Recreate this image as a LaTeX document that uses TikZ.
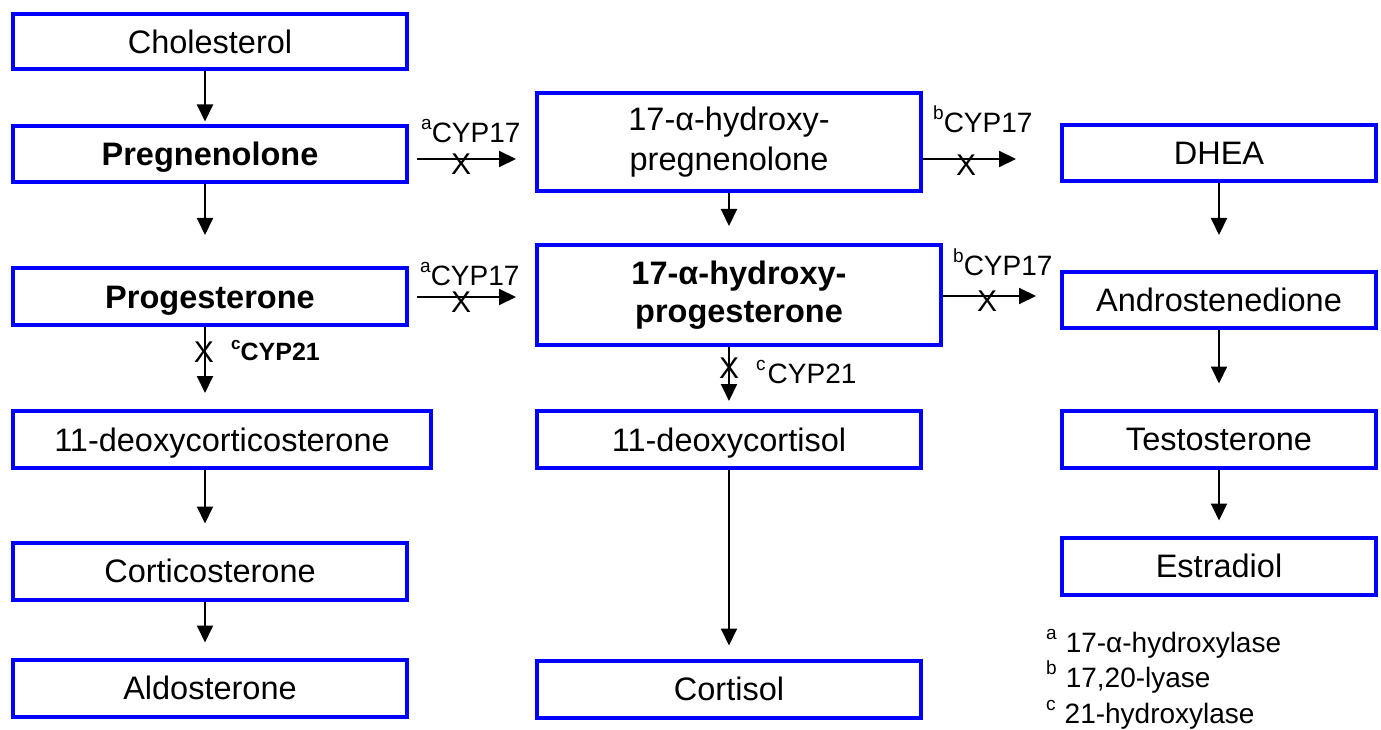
\documentclass[tikz,border=0pt]{standalone}
\usepackage{fontspec}
\setmainfont{Liberation Sans}
\usetikzlibrary{arrows.meta}
\newcommand\supx[1]{\raisebox{13pt}{\fontsize{19}{19}\selectfont #1}}
\begin{document}
\begin{tikzpicture}[x=1pt,y=-1pt,
 box/.style={draw=blue, line width=4pt, inner sep=0pt, align=center, text=black, font=\fontsize{32.5}{40}\selectfont},
 bbox/.style={box, font=\fontsize{32.5}{38}\selectfont\bfseries},
 one/.style={text height=23.5pt, text depth=0pt},
 arr/.style={line width=2pt, -{Triangle[length=17pt,width=16pt]}},
 lab/.style={anchor=base west, inner sep=0pt, font=\fontsize{28}{34}\selectfont},
 xm/.style={inner sep=0pt, font=\fontsize{30}{30}\selectfont}]
\useasboundingbox[fill=white] (0,0) rectangle (1381,730);

% left column
\node[box, one, minimum width=394, minimum height=55] (chol) at (210,41.5) {Cholesterol};
\node[bbox, one, minimum width=394, minimum height=56] (preg) at (210,154) {Pregnenolone};
\node[bbox, one, minimum width=394, minimum height=57] (prog) at (210,296.5) {Progesterone};
\node[box, one, minimum width=418, minimum height=57] (doc) at (222,439.5) {11-deoxycorticosterone};
\node[box, one, minimum width=394, minimum height=57] (cortico) at (210,571) {Corticosterone};
\node[box, one, minimum width=394, minimum height=57] (aldo) at (210,688) {Aldosterone};
% middle column
\node[box, minimum width=384, minimum height=98] (ohpreg) at (729,142.5) {17-α-hydroxy-\\pregnenolone};
\node[bbox, minimum width=404, minimum height=100] (ohp) at (739,295) {17-α-hydroxy-\\progesterone};
\node[box, one, minimum width=384, minimum height=57] (dc) at (729,439.5) {11-deoxycortisol};
\node[box, one, minimum width=384, minimum height=57] (cortisol) at (729,689) {Cortisol};
% right column
\node[box, one, minimum width=314, minimum height=56] (dhea) at (1219,153) {DHEA};
\node[box, one, minimum width=314, minimum height=56] (andro) at (1219,300) {Androstenedione};
\node[box, one, minimum width=314, minimum height=57] (testo) at (1219,439) {Testosterone};
\node[box, one, minimum width=314, minimum height=57] (estr) at (1219,566) {Estradiol};

% vertical arrows, left
\draw[arr, shorten >=2.5pt] ([xshift=-5pt]chol.south) -- ([xshift=-5pt]chol.south |- preg.north);
\draw[arr, shorten >=31pt] ([xshift=-5pt]preg.south) -- ([xshift=-5pt]preg.south |- prog.north);
\draw[arr, shorten >=16pt] ([xshift=-5pt]prog.south) -- ([xshift=-5pt]prog.south |- doc.north);
\draw[arr, shorten >=17pt] ([xshift=-5pt]cortico.north |- doc.south) -- ([xshift=-5pt]cortico.north);
\draw[arr, shorten >=15pt] ([xshift=-5pt]cortico.south) -- ([xshift=-5pt]aldo.north);
% vertical arrows, middle
\draw[arr, shorten >=17pt] (ohpreg.south) -- (ohpreg.south |- ohp.north);
\draw[arr, shorten >=8pt] (dc.north |- ohp.south) -- (dc.north);
\draw[arr, shorten >=13pt] (dc.south) -- (cortisol.north);
% vertical arrows, right
\draw[arr, shorten >=35pt] (dhea.south) -- (andro.north);
\draw[arr, shorten >=25pt] (andro.south) -- (testo.north);
\draw[arr, shorten >=15pt] (testo.south) -- (estr.north);

% horizontal arrows
\draw[arr, shorten <=8pt, shorten >=19pt] ([yshift=-5pt]preg.east) -- ([yshift=-5pt]preg.east -| ohpreg.west);
\draw[arr, shorten <=8pt, shorten >=19pt] ([yshift=-0.5pt]prog.east) -- ([yshift=-0.5pt]prog.east -| ohp.west);
\draw[arr, shorten >=44pt] ([yshift=-16.5pt]ohpreg.east) -- ([yshift=-16.5pt]ohpreg.east -| dhea.west);
\draw[arr, shorten >=24pt] ([yshift=-1pt]ohp.east) -- ([yshift=-1pt]ohp.east -| andro.west);

% block marks
\node[xm] (x1) at (461,164) {X};
\node[xm] (x2) at (461,302) {X};
\node[xm] (x3) at (966,165) {X};
\node[xm] (x4) at (987,301) {X};
\node[xm] (x5) at (204,352) {X};
\node[xm] (x6) at (729,368) {X};

% enzyme labels
\node[lab] (l1) at (421,143) {\supx{a}CYP17};
\node[lab] (l2) at (420,285) {\supx{a}CYP17};
\node[lab] (l3) at (933,133) {\supx{b}CYP17};
\node[lab] (l4) at (953,275) {\supx{b}CYP17};
\node[lab] (l5) at (756,383) {\supx{c}\hspace{2pt}CYP21};
\node[lab, font=\fontsize{25}{30}\selectfont\bfseries] (l6) at (231,360) {\raisebox{11pt}{\fontsize{17}{17}\selectfont c}CYP21};

% legend
\node[lab] (g1) at (1046,652) {\supx{a}\hspace{9pt}17-α-hydroxylase};
\node[lab] (g2) at (1046,687) {\supx{b}\hspace{9pt}17,20-lyase};
\node[lab] (g3) at (1046,723) {\supx{c}\hspace{9pt}21-hydroxylase};
\end{tikzpicture}
\end{document}
